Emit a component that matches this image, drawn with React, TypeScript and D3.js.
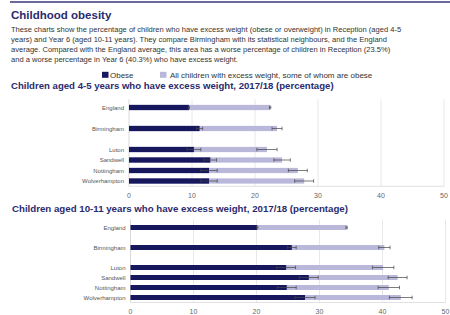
import { scaleBand, scaleLinear } from "d3";

const categories = ["England", "Birmingham", "Luton", "Sandwell", "Nottingham", "Wolverhampton"];
// spacer rows keep England and Birmingham apart from the neighbours
const rowOrder = ["England", "_gap1", "Birmingham", "_gap2", "Luton", "Sandwell", "Nottingham", "Wolverhampton"];
const xTicks = [0, 10, 20, 30, 40, 50];

const recObese = [9.5, 11.2, 10.3, 12.9, 12.7, 12.7];
const recObeseLo = [9.4, 10.7, 9.2, 11.9, 11.4, 11.4];
const recObeseHi = [9.6, 11.7, 11.4, 13.9, 14.0, 14.0];
const recExcess = [22.4, 23.5, 21.9, 24.3, 26.8, 27.8];
const recExcessLo = [22.3, 22.7, 20.3, 23.0, 25.3, 26.3];
const recExcessHi = [22.5, 24.3, 23.5, 25.6, 28.3, 29.3];

const y6Obese = [20.1, 25.6, 24.7, 28.3, 24.8, 27.7];
const y6ObeseLo = [20.0, 24.9, 23.2, 26.8, 23.3, 26.1];
const y6ObeseHi = [20.2, 26.3, 26.2, 29.8, 26.3, 29.3];
const y6Excess = [34.3, 40.3, 40.1, 42.4, 41.0, 42.9];
const y6ExcessLo = [34.2, 39.4, 38.4, 40.9, 39.3, 41.1];
const y6ExcessHi = [34.4, 41.2, 41.8, 43.9, 42.7, 44.7];

const DARK = "#17175e";
const LIGHT = "#b9b8da";
const FONT = "'Liberation Sans', Arial, sans-serif";

function Chart(props: {
  top: number; step: number; x0: number;
  obese: number[]; obeseLo: number[]; obeseHi: number[];
  excess: number[]; excessLo: number[]; excessHi: number[];
}) {
  const x = scaleLinear().domain([0, 50]).range([props.x0, props.x0 + 315]);
  const y = scaleBand().domain(rowOrder).range([props.top, props.top + props.step * rowOrder.length]).paddingInner(0.5).paddingOuter(0.25);
  const bh = y.bandwidth();
  const [y0, y1] = y.range();
  const errBar = (key: string, lo: number, hi: number) => {
    const cy = (y(key) ?? 0) + bh / 2;
    return (
      <g key={key + lo} stroke="#444" strokeWidth={0.7}>
        <line x1={x(lo)} x2={x(hi)} y1={cy} y2={cy} />
        <line x1={x(lo)} x2={x(lo)} y1={cy - 1.8} y2={cy + 1.8} />
        <line x1={x(hi)} x2={x(hi)} y1={cy - 1.8} y2={cy + 1.8} />
      </g>
    );
  };
  return (
    <g>
      {xTicks.slice(1).map(t => (
        <line key={t} x1={x(t)} x2={x(t)} y1={y0 - 3} y2={y1} stroke="#e2e2e2" strokeWidth={0.8} />
      ))}
      <line x1={x(0)} x2={x(50)} y1={y1} y2={y1} stroke="#d9d9d9" strokeWidth={0.8} />
      <line x1={x(0)} x2={x(0)} y1={y0 - 3} y2={y1} stroke="#cfcfcf" strokeWidth={0.8} />
      {categories.map((c, i) => (
        <g key={c}>
          <rect x={x(0)} y={y(c)} width={x(props.excess[i]) - x(0)} height={bh} fill={LIGHT} />
          <rect x={x(0)} y={y(c)} width={x(props.obese[i]) - x(0)} height={bh} fill={DARK} />
          {errBar(c, props.obeseLo[i], props.obeseHi[i])}
          {errBar(c, props.excessLo[i], props.excessHi[i])}
          <text x={x(0) - 5} y={(y(c) ?? 0) + bh / 2} dy="0.35em" textAnchor="end" fontSize={6} fill="#555">{c}</text>
        </g>
      ))}
      {xTicks.map(t => (
        <text key={t} x={x(t)} y={y1 + 9} dy="0.35em" textAnchor="middle" fontSize={7} fill="#666">{t}</text>
      ))}
    </g>
  );
}

const para = [
  "These charts show the percentage of children who have excess weight (obese or overweight) in Reception (aged 4-5",
  "years) and Year 6 (aged 10-11 years). They compare Birmingham with its statistical neighbours, and the England",
  "average. Compared with the England average, this area has a worse percentage of children in Reception (23.5%)",
  "and a worse percentage in Year 6 (40.3%) who have excess weight.",
];

export default function App() {
  return (
    <svg width={450} height={315} style={{ position: "absolute", left: 0, top: 0, background: "#fff" }} fontFamily={FONT}>
      <line x1={10} x2={450} y1={2} y2={2} stroke="#3a3a78" strokeWidth={1.5} />
      <text x={11} y={19} fontSize={11.5} fontWeight="bold" fill="#2a2a6e">Childhood obesity</text>
      {para.map((l, i) => (
        <text key={i} x={11} y={31.5 + i * 10} fontSize={7.55} fill="#333">{l}</text>
      ))}
      <rect x={102} y={71.8} width={6.5} height={6} fill={DARK} />
      <text x={110} y={77.5} fontSize={8} fill="#333">Obese</text>
      <rect x={160} y={71.8} width={6.5} height={6} fill={LIGHT} />
      <text x={170} y={77.5} fontSize={8} fill="#333">All children with excess weight, some of whom are obese</text>
      <text x={11} y={88.5} fontSize={9.6} fontWeight="bold" fill="#2a2a6e">Children aged 4-5 years who have excess weight, 2017/18 (percentage)</text>
      <Chart top={102.25} step={10.5} x0={129}
        obese={recObese} obeseLo={recObeseLo} obeseHi={recObeseHi}
        excess={recExcess} excessLo={recExcessLo} excessHi={recExcessHi} />
      <text x={12} y={211.5} fontSize={9.7} fontWeight="bold" fill="#2a2a6e">Children aged 10-11 years who have excess weight, 2017/18 (percentage)</text>
      <Chart top={222.5} step={10} x0={130.5}
        obese={y6Obese} obeseLo={y6ObeseLo} obeseHi={y6ObeseHi}
        excess={y6Excess} excessLo={y6ExcessLo} excessHi={y6ExcessHi} />
    </svg>
  );
}
